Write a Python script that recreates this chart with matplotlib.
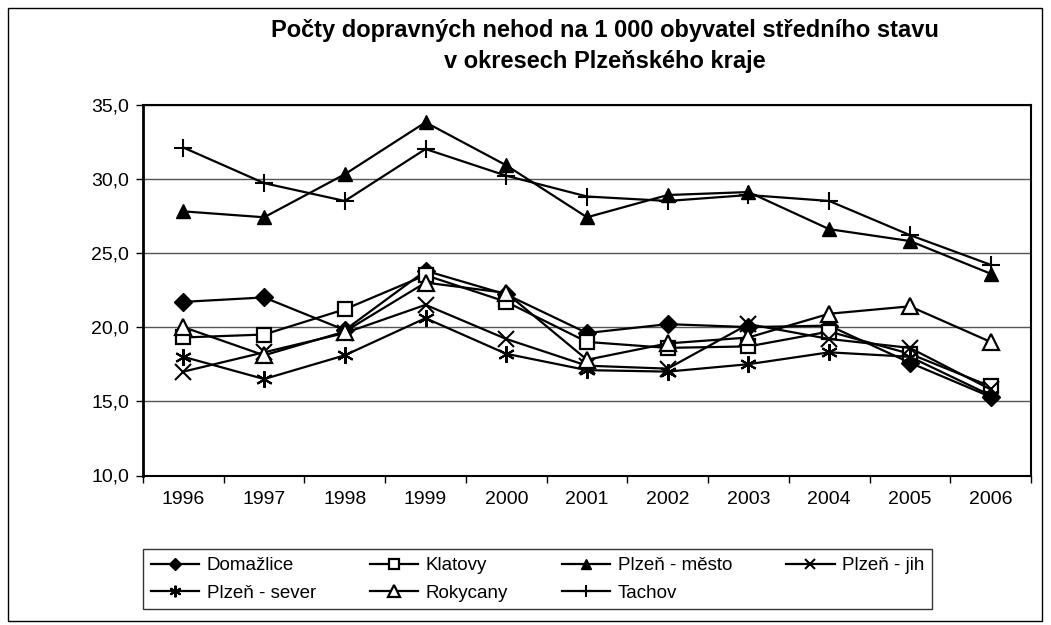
import matplotlib
matplotlib.use("Agg")
import matplotlib.pyplot as plt
from matplotlib.ticker import FuncFormatter, FixedLocator
from matplotlib.patches import Rectangle

years = ["1996", "1997", "1998", "1999", "2000", "2001", "2002", "2003", "2004", "2005", "2006"]
domazlice = [21.7, 22.0, 19.8, 23.8, 22.2, 19.6, 20.2, 20.0, 20.1, 17.6, 15.3]
klatovy = [19.3, 19.5, 21.2, 23.5, 21.7, 19.0, 18.6, 18.7, 19.7, 18.2, 16.0]
plzen_mesto = [27.8, 27.4, 30.3, 33.8, 30.9, 27.4, 28.9, 29.1, 26.6, 25.8, 23.6]
plzen_jih = [17.0, 18.3, 19.6, 21.5, 19.2, 17.4, 17.2, 20.2, 19.2, 18.6, 15.8]
plzen_sever = [18.0, 16.5, 18.1, 20.6, 18.2, 17.1, 17.0, 17.5, 18.3, 18.0, 15.4]
rokycany = [20.0, 18.1, 19.7, 23.0, 22.3, 17.8, 18.9, 19.3, 20.9, 21.4, 19.0]
tachov = [32.1, 29.7, 28.5, 32.0, 30.2, 28.8, 28.5, 28.9, 28.5, 26.2, 24.2]
yticks = [10, 15, 20, 25, 30, 35]
title = "Počty dopravných nehod na 1 000 obyvatel středního stavu\nv okresech Plzeňského kraje"

plt.rcParams['font.family'] = ['Liberation Sans', 'DejaVu Sans']

fig = plt.figure(figsize=(10.51, 6.25), dpi=100)
ax = fig.add_axes([143/1051, 1-475.5/625, (1031-143)/1051, (475.5-104.5)/625])

x = list(range(len(years)))
asterisk = (6, 2, 0)
series = [
    ("Domažlice", domazlice, dict(marker='D', mfc='black', mec='black', ms=9)),
    ("Klatovy", klatovy, dict(marker='s', mfc='white', mec='black', ms=10, mew=1.6)),
    ("Plzeň - město", plzen_mesto, dict(marker='^', mfc='black', mec='black', ms=10)),
    ("Plzeň - jih", plzen_jih, dict(marker='x', mfc='none', mec='black', ms=11, mew=1.5)),
    ("Plzeň - sever", plzen_sever, dict(marker=asterisk, mfc='none', mec='black', ms=12, mew=1.5)),
    ("Rokycany", rokycany, dict(marker='^', mfc='white', mec='black', ms=12, mew=1.6)),
    ("Tachov", tachov, dict(marker='+', mfc='none', mec='black', ms=13, mew=1.5)),
]
handles = {}
for name, vals, st in series:
    h, = ax.plot(x, vals, color='black', lw=1.6, label=name, clip_on=False, **st)
    handles[name] = h

ax.set_xlim(-0.5, len(years) - 0.5)
ax.set_ylim(10, 35)
ax.set_yticks(yticks)
ax.yaxis.set_major_formatter(FuncFormatter(lambda v, p: f"{v:.1f}".replace('.', ',')))
ax.set_xticks(x)
ax.set_xticklabels(years)
ax.xaxis.set_minor_locator(FixedLocator([i - 0.5 for i in range(len(years) + 1)]))
ax.tick_params(axis='x', which='major', length=0, pad=11, labelsize=14)
ax.tick_params(axis='x', which='minor', length=5, width=1, direction='out')
ax.tick_params(axis='y', which='major', length=5, width=1, direction='out', pad=5, labelsize=14)
ax.grid(axis='y', color='#555555', lw=1)
ax.set_axisbelow(True)
for s in ax.spines.values():
    s.set_color('black')
    s.set_linewidth(1.5)
ax.spines['left'].set_linewidth(2)

fig.text(605/1051, 1-46/625, title, ha='center', va='center', fontsize=17, fontweight='bold', linespacing=1.4)

order = ["Domažlice", "Plzeň - sever", "Klatovy", "Rokycany", "Plzeň - město", "Tachov", "Plzeň - jih"]
leg = fig.legend([handles[n] for n in order], order, ncol=4, loc='lower left',
                 bbox_to_anchor=(143/1051, 1-609/625, (932-143)/1051, 70/625), mode='expand',
                 frameon=True, fancybox=False, edgecolor='black', fontsize=13.5,
                 handlelength=2.6, handletextpad=0.4, markerscale=0.7, borderaxespad=0,
                 labelspacing=0.55, columnspacing=1.0)
leg.get_frame().set_linewidth(1.0)

fig.patches.append(Rectangle((8/1051, 4/625), 1034/1051, 613/625, transform=fig.transFigure,
                             fill=False, edgecolor='black', lw=1.0))

fig.savefig("out.png", dpi=100)
